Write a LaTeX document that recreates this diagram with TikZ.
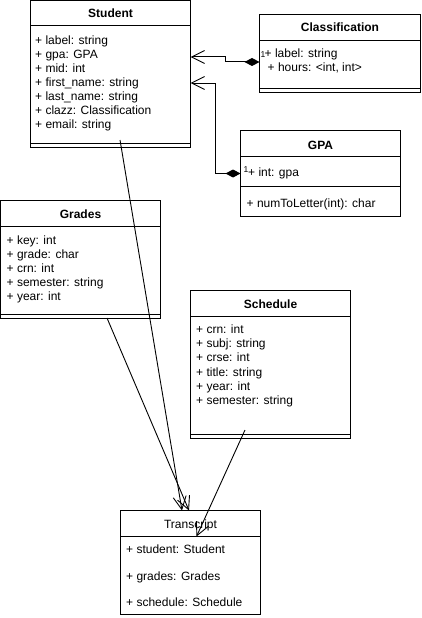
\documentclass[tikz,border=0pt]{standalone}
\usepackage{fontspec}
\setmainfont{Liberation Sans}
\usetikzlibrary{arrows.meta}

\tikzset{
  classbox/.style={draw, line width=1pt, fill=white, anchor=north west, inner sep=0pt, outer sep=0pt},
  classname/.style={font=\fontsize{12}{14}\selectfont\bfseries, anchor=base, inner sep=0pt},
  attrs/.style={font=\fontsize{12}{14}\selectfont, align=left, anchor=base west, inner sep=0pt},
  mult/.style={font=\fontsize{8.5}{10}\selectfont, anchor=base west, inner sep=0pt},
  assoc/.style={line width=0.9pt, -{Straight Barb[length=13pt, width=13pt]}},
  compo/.style={line width=1pt, {Diamond[length=15pt, width=8pt]}-{Straight Barb[length=13pt, width=13pt]}},
}

\begin{document}
\begin{tikzpicture}[x=1pt, y=-1pt]
  \useasboundingbox (0,0) rectangle (421,618);

  % Student (attribute nodes sit on the baseline of their last line)
  \node[classbox, minimum width=160, minimum height=147] (student) at (30.5,0.5) {};
  \draw[line width=1pt] ([yshift=-25.5pt]student.north west) -- ([yshift=-25.5pt]student.north east);
  \draw[line width=1pt] ([yshift=4pt]student.south west) -- ([yshift=4pt]student.south east);
  \node[classname] (studentT) at (110.5,18) {Student};
  \node[attrs] (studentA) at (35,128.5) {+ label: string\\+ gpa: GPA\\+ mid: int\\+ first\_name: string\\+ last\_name: string\\+ clazz: Classification\\+ email: string};

  % Classification
  \node[classbox, minimum width=161, minimum height=77.5] (clazz) at (259.5,14.5) {};
  \draw[line width=1pt] ([yshift=-26pt]clazz.north west) -- ([yshift=-26pt]clazz.north east);
  \draw[line width=1pt] ([yshift=4pt]clazz.south west) -- ([yshift=4pt]clazz.south east);
  \node[classname] (clazzT) at (340,31.5) {Classification};
  \node[attrs] (clazzA) at (264.5,71.5) {+ label: string\\\hspace*{3pt}+ hours: <int, int>};

  % GPA
  \node[classbox, minimum width=160, minimum height=86] (gpa) at (240.5,130.5) {};
  \draw[line width=1pt] ([yshift=-26pt]gpa.north west) -- ([yshift=-26pt]gpa.north east);
  \draw[line width=1pt] ([yshift=-56pt]gpa.north west) -- ([yshift=-56pt]gpa.north east);
  \node[classname] (gpaT) at (320.5,149) {GPA};
  \node[attrs] (gpaA) at (248,176.5) {+ int: gpa};
  \node[attrs] (gpaM) at (246.5,207.5) {+ numToLetter(int): char};

  % Grades
  \node[classbox, minimum width=160, minimum height=117.5] (grades) at (0.5,200.5) {};
  \draw[line width=1pt] ([yshift=-25.5pt]grades.north west) -- ([yshift=-25.5pt]grades.north east);
  \draw[line width=1pt] ([yshift=4pt]grades.south west) -- ([yshift=4pt]grades.south east);
  \node[classname] (gradesT) at (80.5,218.5) {Grades};
  \node[attrs] (gradesA) at (6.5,300.5) {+ key: int\\+ grade: char\\+ crn: int\\+ semester: string\\+ year: int};

  % Schedule
  \node[classbox, minimum width=160, minimum height=148] (schedule) at (190.5,290.5) {};
  \draw[line width=1pt] ([yshift=-26pt]schedule.north west) -- ([yshift=-26pt]schedule.north east);
  \draw[line width=1pt] ([yshift=4pt]schedule.south west) -- ([yshift=4pt]schedule.south east);
  \node[classname] (scheduleT) at (270.5,308.5) {Schedule};
  \node[attrs, font=\fontsize{12}{14.2}\selectfont] (scheduleA) at (196,404.5) {+ crn: int\\+ subj: string\\+ crse: int\\+ title: string\\+ year: int\\+ semester: string};

  % Transcript
  \node[classbox, minimum width=140, minimum height=103.5] (transcript) at (120.5,510.5) {};
  \draw[line width=1pt] ([yshift=-26pt]transcript.north west) -- ([yshift=-26pt]transcript.north east);
  \node[classname, font=\fontsize{12}{14}\selectfont] (transcriptT) at (190.5,528.5) {Transcript};
  \node[attrs, font=\fontsize{12}{26.5}\selectfont] (transcriptA) at (126,606.5) {+ student: Student\\+ grades: Grades\\+ schedule: Schedule};

  % connectors
  \draw[compo] ([yshift=-8.75pt]clazz.west) -- ++(-34,0) |- ([yshift=17pt]student.east);
  \draw[compo] (gpa.west) -- ++(-25.5,0) |- ([yshift=-9pt]student.east);
  \node[mult] (clazzM) at (260.3,58) {1};
  \node[mult] (gpaN) at (243.5,172.5) {1};

  \draw[assoc] ([xshift=9.5pt,yshift=7.5pt]student.south) -- ([xshift=-8.5pt]transcript.north);
  \draw[assoc] ([xshift=26.5pt]grades.south) -- ([xshift=-1.5pt]transcript.north);
  \draw[assoc] ([xshift=-25.5pt,yshift=8.5pt]schedule.south) -- ([xshift=6pt,yshift=-26pt]transcript.north);
\end{tikzpicture}
\end{document}
